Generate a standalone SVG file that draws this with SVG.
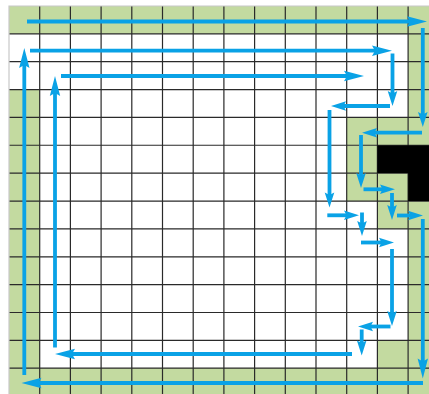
<svg xmlns="http://www.w3.org/2000/svg" width="429" height="394" viewBox="0 0 429 394">
<defs>
<style>
.g{fill:#c3daa0}
.k{fill:#000}
.grid{stroke:#2a2a2a;stroke-width:1.2;fill:none}
.edge{stroke:#c8c8c8;stroke-width:1.2;fill:none}
.a{stroke:#0aa2e6;stroke-width:3.8;fill:none}
.big{marker-end:url(#hb)}
.sm{marker-end:url(#hs)}
</style>
<marker id="hb" markerUnits="userSpaceOnUse" orient="auto" refX="0" refY="0" markerWidth="40" markerHeight="40" viewBox="-20 -20 40 40" overflow="visible">
<path d="M12,0 L-8,-5.2 L-5,0 L-8,5.2 Z" fill="#0aa2e6"/>
</marker>
<marker id="hs" markerUnits="userSpaceOnUse" orient="auto" refX="0" refY="0" markerWidth="40" markerHeight="40" viewBox="-20 -20 40 40" overflow="visible">
<path d="M9,0 L-6,-4.8 L-3.5,0 L-6,4.8 Z" fill="#0aa2e6"/>
</marker>
</defs>
<rect width="429" height="394" fill="#fff"/>
<g id="cells">
<rect class="g" x="9" y="6" width="420" height="27.85"/>
<rect class="g" x="9" y="89.55" width="30.7" height="304.45"/>
<rect class="g" x="408.1" y="6" width="20.9" height="139.25"/>
<rect class="g" x="408.1" y="201.1" width="20.9" height="192.9"/>
<rect class="g" x="346.7" y="117.4" width="61.4" height="27.85"/>
<rect class="g" x="346.7" y="145.25" width="30.7" height="27.85"/>
<rect class="g" x="346.7" y="173.1" width="61.4" height="28"/>
<rect class="g" x="377.4" y="201.1" width="30.7" height="27.85"/>
<rect class="g" x="377.4" y="340.2" width="30.7" height="27.85"/>
<rect class="g" x="9" y="368.05" width="420" height="25.95"/>
</g>
<g id="grid">
<path class="grid" d="M39.7,6V394M70.4,6V394M101.1,6V394M131.8,6V394M162.5,6V394M193.2,6V394M223.9,6V394M254.6,6V394M285.3,6V394M316,6V394M346.7,6V394M377.4,6V394M408.1,6V394"/>
<path class="grid" d="M9,33.85H429M9,61.7H429M9,89.55H429M9,117.4H429M9,145.25H429M9,173.1H429M9,201.1H429M9,228.95H429M9,256.8H429M9,284.65H429M9,312.5H429M9,340.35H429M9,368.05H429"/>
<path class="edge" d="M9,394V6H429"/>
</g>
<g id="blocked">
<path class="k" d="M377.4,145.25H429V201.1H408.1V173.1H377.4Z"/>
</g>
<g id="connectors">
<path class="a big" d="M27,21.5H415"/>
<path class="a sm" d="M422.8,28V118"/>
<path class="a sm" d="M422,132.7H371"/>
<path class="a sm" d="M361,135V179"/>
<path class="a sm" d="M363.5,189.3H386"/>
<path class="a sm" d="M392,193V211"/>
<path class="a sm" d="M397,215.5H414"/>
<path class="a big" d="M422.8,219V366.5"/>
<path class="a big" d="M423,383H33.5"/>
<path class="a big" d="M24.3,375V60"/>
<path class="a big" d="M30,50.7H380"/>
<path class="a sm" d="M392.5,53.5V97"/>
<path class="a sm" d="M390,106H340"/>
<path class="a sm" d="M329.5,110V198.5"/>
<path class="a sm" d="M327.3,215.3H350"/>
<path class="a sm" d="M362,212.5V227"/>
<path class="a sm" d="M361,242.5H385"/>
<path class="a sm" d="M392,249V317"/>
<path class="a sm" d="M390.5,326.5H367"/>
<path class="a sm" d="M361.7,329.5V346.5"/>
<path class="a big" d="M352,354H67"/>
<path class="a big" d="M55,347.5V88"/>
<path class="a big" d="M61,76H352"/>
</g>
</svg>
